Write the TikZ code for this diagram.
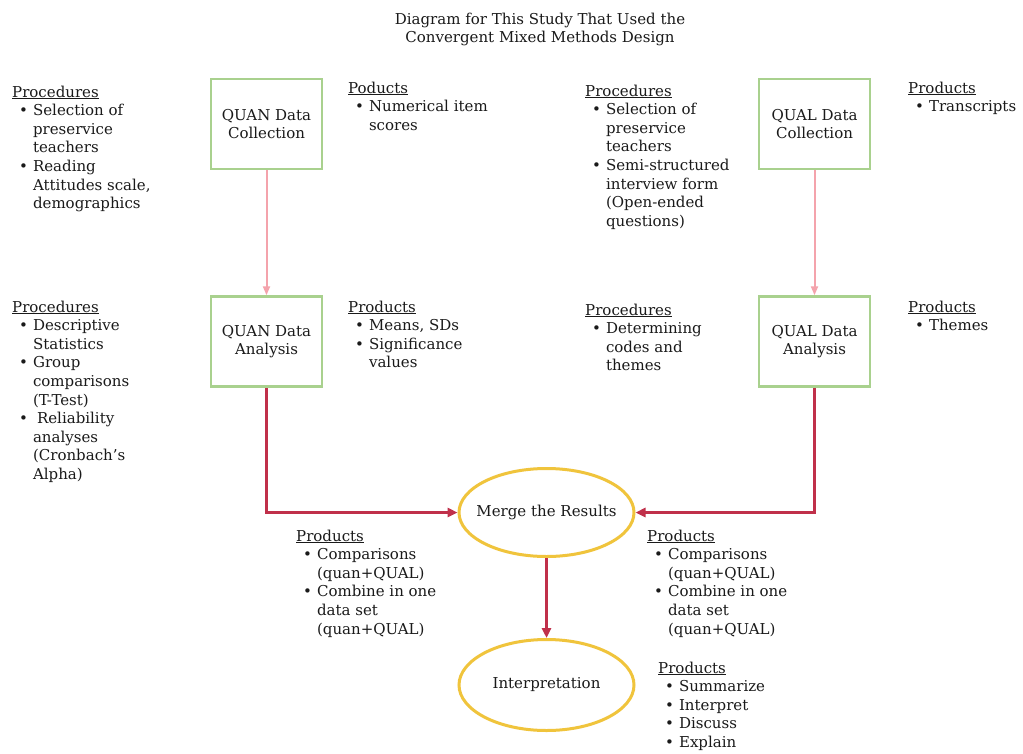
\documentclass[tikz,border=0pt]{standalone}
\usepackage{fontspec}
\setmainfont{DejaVu Serif}
\usetikzlibrary{shapes.geometric,arrows.meta}
\definecolor{boxgreen}{HTML}{A9D18E}
\definecolor{pinkarr}{HTML}{F4A3AC}
\definecolor{darkred}{HTML}{C0304A}
\definecolor{gold}{HTML}{F0C43C}
\definecolor{txt}{HTML}{1A1A1A}
\newcommand{\hd}[1]{\multicolumn{2}{@{}l@{}}{\underline{#1}}}
\newcommand{\bu}{\textbullet}
\begin{document}
\begin{tikzpicture}[x=1pt,y=-1pt, font=\fontsize{15}{18.6}\selectfont, text=txt,
 stepbox/.style={draw=boxgreen, line width=2.5pt, minimum width=111pt, minimum height=90pt, align=center, inner sep=0pt},
 ovalbox/.style={ellipse, draw=gold, line width=3pt, minimum width=175pt, minimum height=88pt, inner xsep=-9pt, inner ysep=0pt},
 lst/.style={anchor=base west, inner sep=0pt},
 thinarrow/.style={draw=pinkarr, line width=2pt, -{Triangle[length=9pt,width=7pt]}},
 thickarrow/.style={draw=darkred, line width=3pt, -{Triangle[length=10pt,width=9pt]}}]
\useasboundingbox (0,0) rectangle (1023,753);
\fill[white] (0,0) rectangle (1023,753);

\node[lst, anchor=base] (title) at (540,24) {\begin{tabular}[t]{@{}c@{}}Diagram for This Study That Used the\\Convergent Mixed Methods Design\end{tabular}};

\node[stepbox] (qnc) at (266.5,124) {QUAN Data\\Collection};
\node[stepbox] (qlc) at (814.5,124) {QUAL Data\\Collection};
\node[stepbox] (qna) at (266.5,341.5) {QUAN Data\\Analysis};
\node[stepbox] (qla) at (814.5,341.5) {QUAL Data\\Analysis};

\node[ovalbox] (merge) at (546.5,512.5) {Merge the Results};
\node[ovalbox, minimum height=91pt] (interp) at (546.5,685) {Interpretation};

\draw[thinarrow] (qnc) -- (qna);
\draw[thinarrow] (qlc) -- (qla);
\draw[thickarrow] (qna.south) |- (merge.west);
\draw[thickarrow] (qla.south) |- (merge.east);
\draw[thickarrow] (merge) -- (interp);

\node[lst] (p1) at (12,97) {\begin{tabular}[t]{@{\hspace{7pt}}l@{\hspace{5pt}}l@{}}\hd{Procedures}\\ \bu & Selection of\\ & preservice\\ & teachers\\ \bu & Reading\\ & Attitudes scale,\\ & demographics\end{tabular}};
\node[lst] (r1) at (348,93) {\begin{tabular}[t]{@{\hspace{7pt}}l@{\hspace{5pt}}l@{}}\hd{Poducts}\\ \bu & Numerical item\\ & scores\end{tabular}};
\node[lst] (p2) at (585,96) {\begin{tabular}[t]{@{\hspace{7pt}}l@{\hspace{5pt}}l@{}}\hd{Procedures}\\ \bu & Selection of\\ & preservice\\ & teachers\\ \bu & Semi-structured\\ & interview form\\ & (Open-ended\\ & questions)\end{tabular}};
\node[lst] (r2) at (908,93) {\begin{tabular}[t]{@{\hspace{7pt}}l@{\hspace{5pt}}l@{}}\hd{Products}\\ \bu & Transcripts\end{tabular}};

\node[lst] (p3) at (12,312) {\begin{tabular}[t]{@{\hspace{7pt}}l@{\hspace{5pt}}l@{}}\hd{Procedures}\\ \bu & Descriptive\\ & Statistics\\ \bu & Group\\ & comparisons\\ & (T-Test)\\ \bu & \hspace{4pt}Reliability\\ & analyses\\ & (Cronbach's\\ & Alpha)\end{tabular}};
\node[lst] (r3) at (348,312) {\begin{tabular}[t]{@{\hspace{7pt}}l@{\hspace{5pt}}l@{}}\hd{Products}\\ \bu & Means, SDs\\ \bu & Significance\\ & values\end{tabular}};
\node[lst] (p4) at (585,315) {\begin{tabular}[t]{@{\hspace{7pt}}l@{\hspace{5pt}}l@{}}\hd{Procedures}\\ \bu & Determining\\ & codes and\\ & themes\end{tabular}};
\node[lst] (r4) at (908,312) {\begin{tabular}[t]{@{\hspace{7pt}}l@{\hspace{5pt}}l@{}}\hd{Products}\\ \bu & Themes\end{tabular}};

\node[lst] (r5) at (296,541) {\begin{tabular}[t]{@{\hspace{7pt}}l@{\hspace{5pt}}l@{}}\hd{Products}\\ \bu & Comparisons\\ & (quan+QUAL)\\ \bu & Combine in one\\ & data set\\ & (quan+QUAL)\end{tabular}};
\node[lst] (r6) at (647,541) {\begin{tabular}[t]{@{\hspace{7pt}}l@{\hspace{5pt}}l@{}}\hd{Products}\\ \bu & Comparisons\\ & (quan+QUAL)\\ \bu & Combine in one\\ & data set\\ & (quan+QUAL)\end{tabular}};
\node[lst] (r7) at (658,673) {\begin{tabular}[t]{@{\hspace{7pt}}l@{\hspace{5pt}}l@{}}\hd{Products}\\ \bu & Summarize\\ \bu & Interpret\\ \bu & Discuss\\ \bu & Explain\end{tabular}};
\end{tikzpicture}
\end{document}
